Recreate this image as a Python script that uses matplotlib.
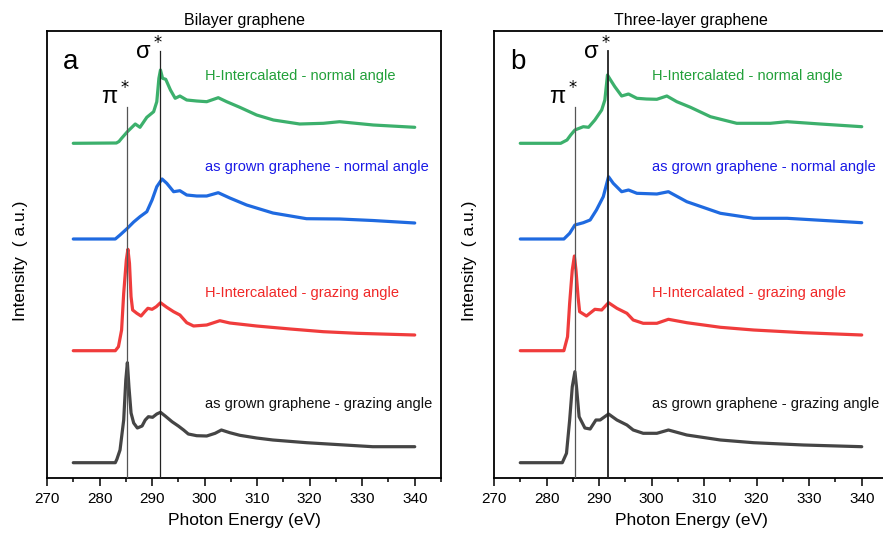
import matplotlib
matplotlib.use("Agg")
import matplotlib.pyplot as plt
from matplotlib.ticker import MultipleLocator

plt.rcParams['font.family'] = ['Liberation Sans', 'DejaVu Sans']

# ---- data (photon energy in eV, intensity in a.u., curves stacked) ----
titles = ["Bilayer graphene", "Three-layer graphene"]
panel_letters = ["a", "b"]
labels = ["H-Intercalated - normal angle", "as grown graphene - normal angle",
          "H-Intercalated - grazing angle", "as grown graphene - grazing angle"]
colors = ["#3cb06c", "#1f6ae0", "#f03c3c", "#454545"]
text_colors = ["#22a03a", "#1a1ae6", "#f02828", "#111111"]
label_y = [4.02, 3.11, 1.85, 0.74]

# bilayer
bi_green_E = [275, 283.2, 283.7, 284.2, 285.3, 286.8, 287.7, 289.0, 290.3, 290.9, 291.3, 291.6, 292.0,
              292.6, 293.5, 294.4, 295.3, 296.6, 298.5, 300.4, 302.6, 304.2, 306.7, 309.9, 313.1, 318.1,
              322.6, 325.7, 332.1, 340]
bi_green_I = [3.347, 3.35, 3.365, 3.397, 3.463, 3.54, 3.507, 3.607, 3.663, 3.763, 3.997, 4.08, 3.997,
              3.987, 3.88, 3.797, 3.82, 3.78, 3.77, 3.763, 3.803, 3.763, 3.707, 3.63, 3.58, 3.54,
              3.547, 3.563, 3.53, 3.507]
bi_blue_E = [275, 283.0, 283.9, 285.3, 286.5, 287.7, 289.0, 290.0, 290.9, 291.9, 292.8, 294.1, 295.3,
             296.6, 298.5, 300.4, 302.6, 304.8, 308.0, 313.0, 319.4, 325.7, 332.0, 340]
bi_blue_I = [2.39, 2.39, 2.43, 2.497, 2.56, 2.613, 2.663, 2.78, 2.913, 2.99, 2.947, 2.863, 2.873,
             2.83, 2.82, 2.82, 2.853, 2.80, 2.73, 2.65, 2.593, 2.59, 2.575, 2.55]
bi_red_E = [275, 283.0, 283.6, 284.2, 284.6, 285.1, 285.4, 285.7, 286.0, 286.3, 287.1, 287.9, 288.6,
            289.2, 290.0, 290.8, 291.6, 292.8, 294.1, 295.3, 296.6, 297.9, 300.4, 302.9, 304.8, 309.9,
            316.3, 322.6, 329.0, 340]
bi_red_I = [1.273, 1.273, 1.313, 1.48, 1.847, 2.18, 2.287, 2.147, 1.813, 1.68, 1.647, 1.62, 1.663,
            1.697, 1.687, 1.713, 1.753, 1.707, 1.663, 1.63, 1.553, 1.52, 1.53, 1.573, 1.55, 1.52,
            1.49, 1.463, 1.447, 1.43]
bi_black_E = [275, 283.0, 283.3, 283.9, 284.6, 285.0, 285.3, 285.6, 286.0, 286.5, 287.2, 288.1, 288.7,
              289.3, 290.1, 290.9, 291.6, 292.5, 293.8, 295.0, 296.0, 296.9, 298.5, 300.4, 302.0, 303.2,
              304.8, 306.7, 309.9, 313.0, 319.4, 325.7, 332.0, 340]
bi_black_I = [0.153, 0.153, 0.187, 0.28, 0.58, 0.98, 1.153, 0.91, 0.65, 0.55, 0.50, 0.52, 0.58,
              0.613, 0.607, 0.64, 0.657, 0.62, 0.563, 0.52, 0.48, 0.44, 0.423, 0.42, 0.447, 0.48,
              0.453, 0.427, 0.40, 0.38, 0.353, 0.333, 0.313, 0.313]

# three-layer
tri_green_E = [275, 282.7, 283.9, 284.6, 285.4, 287.0, 288.0, 289.2, 290.5, 291.1, 291.6, 292.1, 293.0,
               294.3, 295.6, 297.2, 299.0, 301.0, 302.9, 304.8, 307.4, 311.2, 316.2, 322.6, 325.8, 332.1, 340]
tri_green_I = [3.347, 3.347, 3.38, 3.43, 3.48, 3.513, 3.507, 3.58, 3.68, 3.78, 4.03, 3.987, 3.913,
               3.82, 3.84, 3.797, 3.79, 3.787, 3.82, 3.763, 3.707, 3.613, 3.547, 3.547, 3.563, 3.54, 3.513]
tri_blue_E = [275, 283.3, 284.4, 285.4, 287.0, 288.3, 289.5, 290.8, 291.8, 292.7, 294.3, 295.6, 297.2,
              301.0, 303.2, 306.7, 313.1, 319.4, 325.8, 340]
tri_blue_I = [2.39, 2.39, 2.447, 2.53, 2.553, 2.58, 2.68, 2.813, 3.013, 2.947, 2.863, 2.88, 2.847,
              2.84, 2.863, 2.763, 2.647, 2.597, 2.597, 2.553]
tri_red_E = [275, 283.3, 284.0, 284.4, 284.9, 285.3, 285.6, 286.0, 286.3, 287.6, 289.2, 290.5, 291.8,
             293.4, 295.3, 296.5, 298.4, 301.0, 303.2, 306.7, 313.1, 319.4, 328.9, 340]
tri_red_I = [1.273, 1.273, 1.413, 1.747, 2.08, 2.22, 2.08, 1.813, 1.663, 1.62, 1.687, 1.68, 1.753,
             1.697, 1.647, 1.58, 1.547, 1.547, 1.587, 1.553, 1.507, 1.48, 1.453, 1.43]
tri_black_E = [275, 283.0, 283.8, 284.4, 284.9, 285.4, 285.7, 286.2, 287.3, 288.3, 289.4, 290.2, 291.8,
               293.4, 295.3, 296.5, 298.4, 301.0, 303.2, 306.7, 313.1, 319.4, 328.9, 340]
tri_black_I = [0.153, 0.153, 0.247, 0.58, 0.913, 1.063, 0.913, 0.613, 0.50, 0.49, 0.58, 0.58, 0.64,
               0.58, 0.53, 0.48, 0.447, 0.447, 0.48, 0.43, 0.38, 0.353, 0.33, 0.313]

# pi* / sigma* marker energies and line tops
pi_E = [285.2, 285.4]
sigma_E = [291.6, 291.7]
pi_top = 3.71
sigma_top = 4.27

panels = [
    [(bi_green_E, bi_green_I), (bi_blue_E, bi_blue_I), (bi_red_E, bi_red_I), (bi_black_E, bi_black_I)],
    [(tri_green_E, tri_green_I), (tri_blue_E, tri_blue_I), (tri_red_E, tri_red_I), (tri_black_E, tri_black_I)],
]

fig = plt.figure(figsize=(8.83, 5.37), dpi=100)
ax_left = fig.add_axes([47 / 883, 59 / 537, 394 / 883, 447 / 537])
ax_right = fig.add_axes([494 / 883, 59 / 537, 394 / 883, 447 / 537])
axes = [ax_left, ax_right]
label_x = [-0.048, -0.043]
sigma_lw = [0.9, 1.3]

for k, ax in enumerate(axes):
    for (E, I), c in zip(panels[k], colors):
        ax.plot(E, I, color=c, lw=2.3, solid_joinstyle='round', solid_capstyle='round', zorder=3)
    for lab, tc, ly in zip(labels, text_colors, label_y):
        ax.text(300.0, ly, lab, color=tc, fontsize=10.5, ha='left', va='center')

    ax.plot([pi_E[k], pi_E[k]], [0, pi_top], color='#555555', lw=0.9, zorder=4)
    ax.plot([sigma_E[k], sigma_E[k]], [0, sigma_top], color='#222222', lw=sigma_lw[k], zorder=4)
    ax.text(pi_E[k] + 0.6, 3.73, "π$^*$", fontsize=17, ha='right', va='baseline')
    ax.text(sigma_E[k] + 0.5, 4.18, "σ$^*$", fontsize=17, ha='right', va='baseline')
    ax.text(0.06, 0.93, panel_letters[k], fontsize=20, transform=ax.transAxes,
            ha='center', va='center')

    ax.set_xlim(270, 345)
    ax.set_ylim(0, 4.47)
    ax.xaxis.set_major_locator(MultipleLocator(10))
    ax.xaxis.set_minor_locator(MultipleLocator(5))
    ax.tick_params(axis='x', which='major', direction='out', length=6, width=1.1,
                   labelsize=11, pad=4, top=False)
    ax.tick_params(axis='x', which='minor', direction='out', length=3, width=1.1, top=False)
    ax.set_yticks([])
    for sp in ax.spines.values():
        sp.set_linewidth(1.3)
    ax.set_xlabel("Photon Energy (eV)", fontsize=12.5, labelpad=5)
    ax.set_ylabel("Intensity  ( a.u.)", fontsize=12.5)
    ax.yaxis.set_label_coords(label_x[k], 0.485)
    ax.set_title(titles[k], fontsize=11.5, pad=4)

fig.savefig("out.png", dpi=100)
